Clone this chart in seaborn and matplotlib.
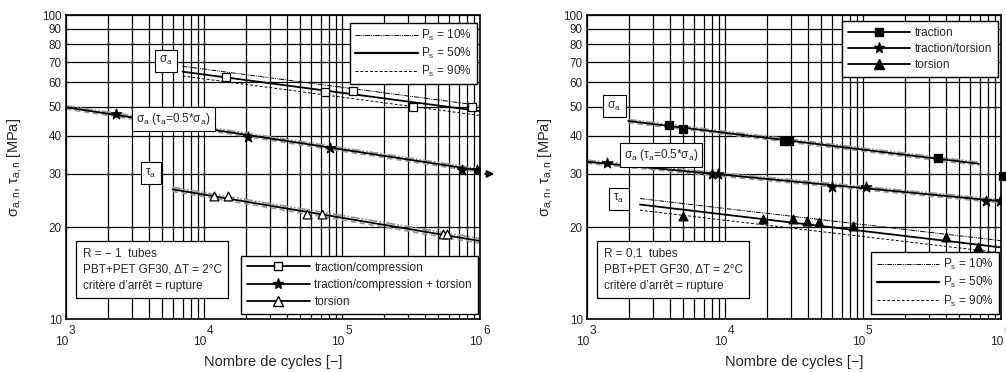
import matplotlib
matplotlib.use("Agg")
import matplotlib.pyplot as plt
import seaborn as sns
from matplotlib.lines import Line2D
from matplotlib.ticker import LogLocator, NullLocator, NullFormatter

# ---------- données ----------
# panneau gauche (R = -1)
tc_N = [14360, 75300, 120800, 325000, 871000]
tc_S = [62.3, 56.0, 56.2, 49.8, 49.7]
tct_N = [2290, 20940, 81850, 736000, 957000]
tct_S = [47.3, 39.8, 36.4, 30.9, 30.8]
tor_N = [11890, 14930, 55700, 71300, 542000, 580000]
tor_S = [25.4, 25.4, 22.1, 22.1, 19.1, 19.1]

# droites P_s (extrémités) : N, S10, S50, S90
g_sig_N = [7000, 1e6]
g_sig_10 = [67.8, 50.4]
g_sig_50 = [65.1, 48.3]
g_sig_90 = [63.0, 46.7]
g_mix_N = [1000, 1e6]
g_mix_10 = [50.3, 31.2]
g_mix_50 = [49.7, 30.8]
g_mix_90 = [49.1, 30.4]
g_tau_N = [5930, 1e6]
g_tau_10 = [27.1, 18.4]
g_tau_50 = [26.7, 18.06]
g_tau_90 = [26.3, 17.75]

# panneau droit (R = 0,1)
tr_N = [3954, 4966, 26800, 28900, 351000]
tr_S = [43.5, 42.1, 38.5, 38.5, 33.9]
tr_runout_N = [1.03e6]
tr_runout_S = [29.6]
tt_N = [1403, 8090, 8940, 60000, 104700, 774000, 984000]
tt_S = [32.5, 30.0, 30.0, 27.2, 27.2, 24.4, 24.4]
to_N = [4930, 18750, 31250, 39500, 48000, 85100, 399000, 685000]
to_S = [21.9, 21.3, 21.4, 21.0, 20.8, 20.2, 18.6, 17.3]

d_sig_N = [1990, 6.93e5]
d_sig_10 = [45.3, 32.8]
d_sig_50 = [44.8, 32.4]
d_sig_90 = [44.3, 32.0]
d_mix_N = [1000, 1e6]
d_mix_10 = [33.3, 24.7]
d_mix_50 = [32.9, 24.4]
d_mix_90 = [32.5, 24.1]
d_tau_N = [2420, 1e6]
d_tau_10 = [24.9, 18.1]
d_tau_50 = [23.8, 17.2]
d_tau_90 = [22.8, 16.5]

y_ticks = [10, 20, 30, 40, 50, 60, 70, 80, 90, 100]
x_ticks = [1e3, 1e4, 1e5, 1e6]
x_expo = ["3", "4", "5", "6"]

sns.set_style("white")
plt.rcParams["font.family"] = ["Liberation Sans", "DejaVu Sans"]
plt.rcParams["mathtext.fontset"] = "custom"
plt.rcParams["mathtext.rm"] = "Liberation Sans"
plt.rcParams["mathtext.it"] = "Liberation Sans:italic"

LS10 = (0, (5, 1, 1, 1, 1, 1))
LS90 = (0, (3, 2))


def droites(ax, N, s10, s50, s90, bande=False):
    if bande:
        sns.lineplot(x=N, y=s10, ax=ax, color="0.6", lw=1.3, linestyle=LS10)
        sns.lineplot(x=N, y=s90, ax=ax, color="0.6", lw=1.3, linestyle=LS90)
    else:
        sns.lineplot(x=N, y=s10, ax=ax, color="k", lw=0.7, linestyle=LS10)
        sns.lineplot(x=N, y=s90, ax=ax, color="k", lw=0.7, linestyle=LS90)
    sns.lineplot(x=N, y=s50, ax=ax, color="k", lw=1.3)


def points(ax, N, S, marker, ouvert, size=34, clip=True):
    sns.scatterplot(x=N, y=S, ax=ax, marker=marker, s=size,
                    facecolor="white" if ouvert else "k",
                    edgecolor="k", linewidth=0.9, zorder=5, clip_on=clip)


def mise_en_forme(ax):
    ax.set_xscale("log")
    ax.set_yscale("log")
    ax.set_xlim(1e3, 1e6)
    ax.set_ylim(10, 100)
    ax.xaxis.set_minor_locator(LogLocator(base=10, subs=range(2, 10)))
    ax.xaxis.set_minor_formatter(NullFormatter())
    ax.set_xticks(x_ticks)
    ax.set_xticklabels([])
    ax.set_yticks(y_ticks)
    ax.set_yticklabels([str(v) for v in y_ticks])
    ax.yaxis.set_minor_locator(NullLocator())
    ax.grid(True, which="major", axis="both", color="k", lw=0.9)
    ax.grid(True, which="minor", axis="x", color="k", lw=0.9)
    ax.tick_params(which="both", length=0, labelsize=8.4, pad=3)
    for sp in ax.spines.values():
        sp.set_color("k")
        sp.set_linewidth(1.2)
    # étiquettes 10^n : exposant de même taille, décalé vers le haut
    for xt, e in zip(x_ticks, x_expo):
        ax.annotate("10", xy=(xt, 0), xycoords=("data", "axes fraction"),
                    xytext=(2, -23), textcoords="offset pixels",
                    ha="right", va="center", fontsize=8.6, annotation_clip=False)
        ax.annotate(e, xy=(xt, 0), xycoords=("data", "axes fraction"),
                    xytext=(3, -12), textcoords="offset pixels",
                    ha="left", va="center", fontsize=8.6, annotation_clip=False)
    ax.set_xlabel("Nombre de cycles [−]", fontsize=10.5, va="top")
    ax.xaxis.set_label_coords(0.5, -0.118)
    ax.set_ylabel(r"σ$_\mathregular{a,n}$, τ$_\mathregular{a,n}$ [MPa]", fontsize=10.5)


def boite(ax, x, y, txt, fs=8.5):
    ax.text(x, y, txt, transform=ax.transAxes, ha="center", va="center", fontsize=fs,
            bbox=dict(boxstyle="square,pad=0.35", fc="white", ec="k", lw=0.8), zorder=8)


def legende_ps(ax, anchor):
    h = [Line2D([], [], color="k", lw=0.7, linestyle=LS10),
         Line2D([], [], color="k", lw=1.6),
         Line2D([], [], color="k", lw=0.7, linestyle=LS90)]
    lab = [r"P$_\mathregular{s}$ = 10%", r"P$_\mathregular{s}$ = 50%", r"P$_\mathregular{s}$ = 90%"]
    return ax.legend(h, lab, loc=anchor[0], bbox_to_anchor=anchor[1], borderaxespad=0,
                     fontsize=8.5, handlelength=5.3, handletextpad=0.3, labelspacing=0.25,
                     fancybox=False, edgecolor="k", framealpha=1, borderpad=0.45)


fig = plt.figure(figsize=(10.06, 3.72), dpi=100)
axg = fig.add_axes([66 / 1006, 53 / 372, 414 / 1006, 304 / 372])
axd = fig.add_axes([587 / 1006, 53 / 372, 414 / 1006, 304 / 372])

# ---------- panneau gauche ----------
mise_en_forme(axg)
droites(axg, g_sig_N, g_sig_10, g_sig_50, g_sig_90)
droites(axg, g_mix_N, g_mix_10, g_mix_50, g_mix_90, bande=True)
droites(axg, g_tau_N, g_tau_10, g_tau_50, g_tau_90, bande=True)
points(axg, tc_N, tc_S, "s", True)
points(axg, tct_N, tct_S, "*", False, size=60)
points(axg, tor_N, tor_S, "^", True, size=40)
axg.annotate("", xy=(1.33e6, 30.0), xytext=(1.04e6, 30.0), xycoords="data",
             arrowprops=dict(arrowstyle="-|>", color="k", lw=1.4), annotation_clip=False)

boite(axg, 0.2415, 0.849, r"σ$_\mathregular{a}$")
boite(axg, 0.259, 0.658, r"σ$_\mathregular{a}$ (τ$_\mathregular{a}$=0.5*σ$_\mathregular{a}$)")
boite(axg, 0.205, 0.48, r"τ$_\mathregular{a}$")
axg.text(0.04, 0.09, "R = − 1  tubes\nPBT+PET GF30, ΔT = 2°C\ncritère d’arrêt = rupture",
         transform=axg.transAxes, ha="left", va="bottom", fontsize=8.5, linespacing=1.45,
         bbox=dict(boxstyle="square,pad=0.55", fc="white", ec="k", lw=0.9), zorder=8)

leg1 = legende_ps(axg, ("upper right", (0.9935, 0.975)))
axg.add_artist(leg1)
hg = [Line2D([], [], color="k", lw=1.3, marker="s", mfc="white", mec="k", ms=6),
      Line2D([], [], color="k", lw=1.3, marker="*", mfc="k", mec="k", ms=8),
      Line2D([], [], color="k", lw=1.3, marker="^", mfc="white", mec="k", ms=7)]
axg.legend(hg, ["traction/compression", "traction/compression + torsion", "torsion"],
           loc="lower right", bbox_to_anchor=(0.995, 0.016), borderaxespad=0,
           fontsize=8.5, handlelength=5.3, handletextpad=0.4, labelspacing=0.45,
           fancybox=False, edgecolor="k", framealpha=1, borderpad=0.5)
axg.yaxis.set_label_coords(-0.101, 0.5)

# ---------- panneau droit ----------
mise_en_forme(axd)
droites(axd, d_sig_N, d_sig_10, d_sig_50, d_sig_90, bande=True)
droites(axd, d_mix_N, d_mix_10, d_mix_50, d_mix_90, bande=True)
droites(axd, d_tau_N, d_tau_10, d_tau_50, d_tau_90)
points(axd, tr_N, tr_S, "s", False)
points(axd, tr_runout_N, tr_runout_S, "s", False, clip=False)
points(axd, tt_N, tt_S, "*", False, size=60)
points(axd, to_N, to_S, "^", False, size=40)

boite(axd, 0.0664, 0.7007, r"σ$_\mathregular{a}$")
boite(axd, 0.179, 0.5395, r"σ$_\mathregular{a}$ (τ$_\mathregular{a}$=0.5*σ$_\mathregular{a}$)")
boite(axd, 0.0773, 0.395, r"τ$_\mathregular{a}$")
axd.text(0.04, 0.09, "R = 0,1  tubes\nPBT+PET GF30, ΔT = 2°C\ncritère d’arrêt = rupture",
         transform=axd.transAxes, ha="left", va="bottom", fontsize=8.5, linespacing=1.45,
         bbox=dict(boxstyle="square,pad=0.55", fc="white", ec="k", lw=0.9), zorder=8)

hd = [Line2D([], [], color="k", lw=1.3, marker="s", mfc="k", mec="k", ms=6),
      Line2D([], [], color="k", lw=1.3, marker="*", mfc="k", mec="k", ms=8),
      Line2D([], [], color="k", lw=1.3, marker="^", mfc="k", mec="k", ms=7)]
leg2 = axd.legend(hd, ["traction", "traction/torsion", "torsion"],
                  loc="upper right", bbox_to_anchor=(0.9935, 0.98), borderaxespad=0,
                  fontsize=8.5, handlelength=5.3, handletextpad=0.4, labelspacing=0.35,
                  fancybox=False, edgecolor="k", framealpha=1, borderpad=0.5)
axd.add_artist(leg2)
legende_ps(axd, ("lower right", (0.995, 0.017)))
axd.yaxis.set_label_coords(-0.077, 0.5)

fig.savefig("out.png", dpi=100)
